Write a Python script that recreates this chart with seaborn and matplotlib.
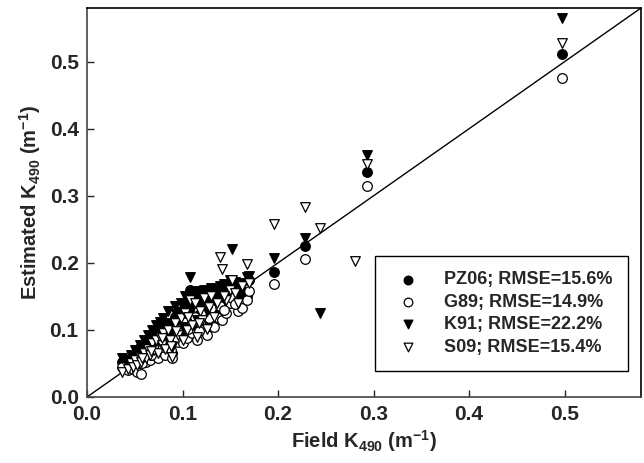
import numpy as np
import pandas as pd
import matplotlib
matplotlib.use('Agg')
import matplotlib.pyplot as plt
import seaborn as sns
from matplotlib.ticker import FormatStrFormatter

nan = np.nan

# field K490 (shared stations)
field_k490 = [0.037, 0.043, 0.046, 0.048, 0.050, 0.052, 0.055, 0.057, 0.060, 0.062,
              0.064, 0.066, 0.068, 0.070, 0.072, 0.074, 0.076, 0.078, 0.080, 0.082,
              0.085, 0.087, 0.089, 0.092, 0.095, 0.098, 0.100, 0.103, 0.105, 0.108,
              0.110, 0.113, 0.115, 0.118, 0.120, 0.123, 0.126, 0.130, 0.133, 0.136,
              0.139, 0.141, 0.145, 0.150, 0.152, 0.158, 0.162, 0.167, 0.170,
              0.058, 0.067, 0.079, 0.093, 0.106, 0.117, 0.128, 0.143, 0.155, 0.088,
              0.196, 0.228, 0.244, 0.281, 0.293, 0.497]

pz06 = [0.052, 0.048, 0.058, 0.050, 0.062, 0.055, 0.068, 0.060, 0.075, 0.070,
        0.082, 0.066, 0.088, 0.080, 0.092, 0.072, 0.098, 0.085, 0.105, 0.078,
        0.110, 0.092, 0.066, 0.120, 0.100, 0.128, 0.090, 0.138, 0.110, 0.160,
        0.118, 0.150, 0.100, 0.140, 0.125, 0.155, 0.112, 0.160, 0.130, 0.148,
        0.162, 0.140, 0.152, 0.165, 0.170, 0.150, 0.158, 0.150, 0.175,
        0.066, 0.074, 0.095, 0.108, 0.132, 0.122, 0.146, 0.160, 0.163, 0.082,
        0.187, 0.225, nan, nan, 0.336, 0.512]

g89 = [0.045, 0.040, 0.047, 0.042, 0.050, 0.038, 0.055, 0.035, 0.060, 0.052,
       0.068, 0.055, 0.070, 0.062, 0.075, 0.058, 0.080, 0.068, 0.085, 0.062,
       0.090, 0.075, 0.058, 0.098, 0.082, 0.105, 0.080, 0.112, 0.088, 0.125,
       0.095, 0.120, 0.085, 0.110, 0.100, 0.128, 0.092, 0.132, 0.105, 0.120,
       0.135, 0.115, 0.125, 0.140, 0.148, 0.128, 0.133, 0.145, 0.158,
       0.050, 0.062, 0.074, 0.090, 0.102, 0.098, 0.118, 0.130, 0.138, 0.070,
       0.169, 0.206, nan, nan, 0.315, 0.476]

k91 = [0.058, 0.055, 0.063, 0.060, 0.070, 0.066, 0.078, 0.072, 0.085, 0.080,
       0.092, 0.078, 0.100, 0.095, 0.108, 0.085, 0.112, 0.100, 0.118, 0.090,
       0.128, 0.108, 0.075, 0.135, 0.115, 0.140, 0.105, 0.150, 0.125, 0.179,
       0.132, 0.158, 0.115, 0.155, 0.138, 0.160, 0.128, 0.162, 0.145, 0.160,
       0.165, 0.150, 0.162, 0.175, 0.221, 0.160, 0.170, 0.179, 0.180,
       0.074, 0.086, 0.110, 0.124, 0.146, 0.136, 0.158, 0.168, 0.172, 0.094,
       0.207, 0.237, 0.125, nan, 0.361, 0.565]

s09 = [0.038, 0.042, 0.050, 0.045, 0.055, 0.048, 0.060, 0.052, 0.065, 0.058,
       0.072, 0.062, 0.080, 0.070, 0.085, 0.066, 0.090, 0.078, 0.095, 0.072,
       0.100, 0.085, 0.060, 0.110, 0.092, 0.118, 0.085, 0.125, 0.100, 0.145,
       0.108, 0.140, 0.090, 0.128, 0.115, 0.148, 0.102, 0.150, 0.120, 0.140,
       0.209, 0.191, 0.145, 0.160, 0.175, 0.140, 0.165, 0.198, 0.170,
       0.058, 0.068, 0.088, 0.098, 0.120, 0.110, 0.134, 0.150, 0.155, 0.076,
       0.258, 0.284, 0.252, 0.203, 0.348, 0.528]

labels = ['PZ06; RMSE=15.6%', 'G89; RMSE=14.9%', 'K91; RMSE=22.2%', 'S09; RMSE=15.4%']

sns.set_style('ticks')
plt.rcParams['font.family'] = ['Liberation Sans', 'DejaVu Sans']
plt.rcParams['font.weight'] = 'bold'
plt.rcParams['mathtext.fontset'] = 'custom'
plt.rcParams['mathtext.rm'] = 'Liberation Sans:bold'
plt.rcParams['mathtext.it'] = 'Liberation Sans:bold'
plt.rcParams['mathtext.bf'] = 'Liberation Sans:bold'
plt.rcParams['mathtext.default'] = 'rm'

fig, ax = plt.subplots(figsize=(6.44, 4.63), dpi=100)
fig.subplots_adjust(left=87/644, right=641/644, top=1-8/463, bottom=1-397/463)

df = pd.DataFrame({'field': field_k490, 'PZ06': pz06, 'G89': g89, 'K91': k91, 'S09': s09})

# 1:1 line
ax.plot([0, 0.58], [0, 0.58], color='black', lw=1, zorder=1)

styles = [('PZ06', 'o', 'black'), ('G89', 'o', 'white'),
          ('K91', 'v', 'black'), ('S09', 'v', 'white')]
for (col, mk, fc), lab in zip(styles, labels):
    sns.scatterplot(data=df, x='field', y=col, marker=mk, color=fc,
                    edgecolor='black', linewidth=0.9, s=48, ax=ax,
                    label=lab, zorder=2)

ax.set_xlim(0, 0.58)
ax.set_ylim(0, 0.58)
ax.set_xticks([0.0, 0.1, 0.2, 0.3, 0.4, 0.5])
ax.set_yticks([0.0, 0.1, 0.2, 0.3, 0.4, 0.5])
ax.xaxis.set_major_formatter(FormatStrFormatter('%.1f'))
ax.yaxis.set_major_formatter(FormatStrFormatter('%.1f'))
ax.tick_params(direction='in', length=5, width=1, labelsize=15, pad=6)
for lab in ax.get_xticklabels() + ax.get_yticklabels():
    lab.set_fontweight('bold')

for sp in ax.spines.values():
    sp.set_visible(True)
    sp.set_linewidth(1.2)
    sp.set_color('black')
ax.spines['left'].set_color('#444444')
ax.spines['bottom'].set_color('#444444')

ax.set_xlabel('Field K$_{490}$ (m$^{-1}$)', fontsize=14.5, fontweight='bold', labelpad=3)
ax.set_ylabel('Estimated K$_{490}$ (m$^{-1}$)', fontsize=14.5, fontweight='bold', labelpad=5)

leg = ax.legend(loc='lower right', bbox_to_anchor=(0.977, 0.067), borderaxespad=0,
                fancybox=False, edgecolor='black', framealpha=1,
                prop={'size': 13, 'weight': 'bold'}, handletextpad=1.0,
                borderpad=0.85, labelspacing=0.3, markerscale=0.9)
leg.get_frame().set_linewidth(1)

fig.savefig('out.png', dpi=100)
